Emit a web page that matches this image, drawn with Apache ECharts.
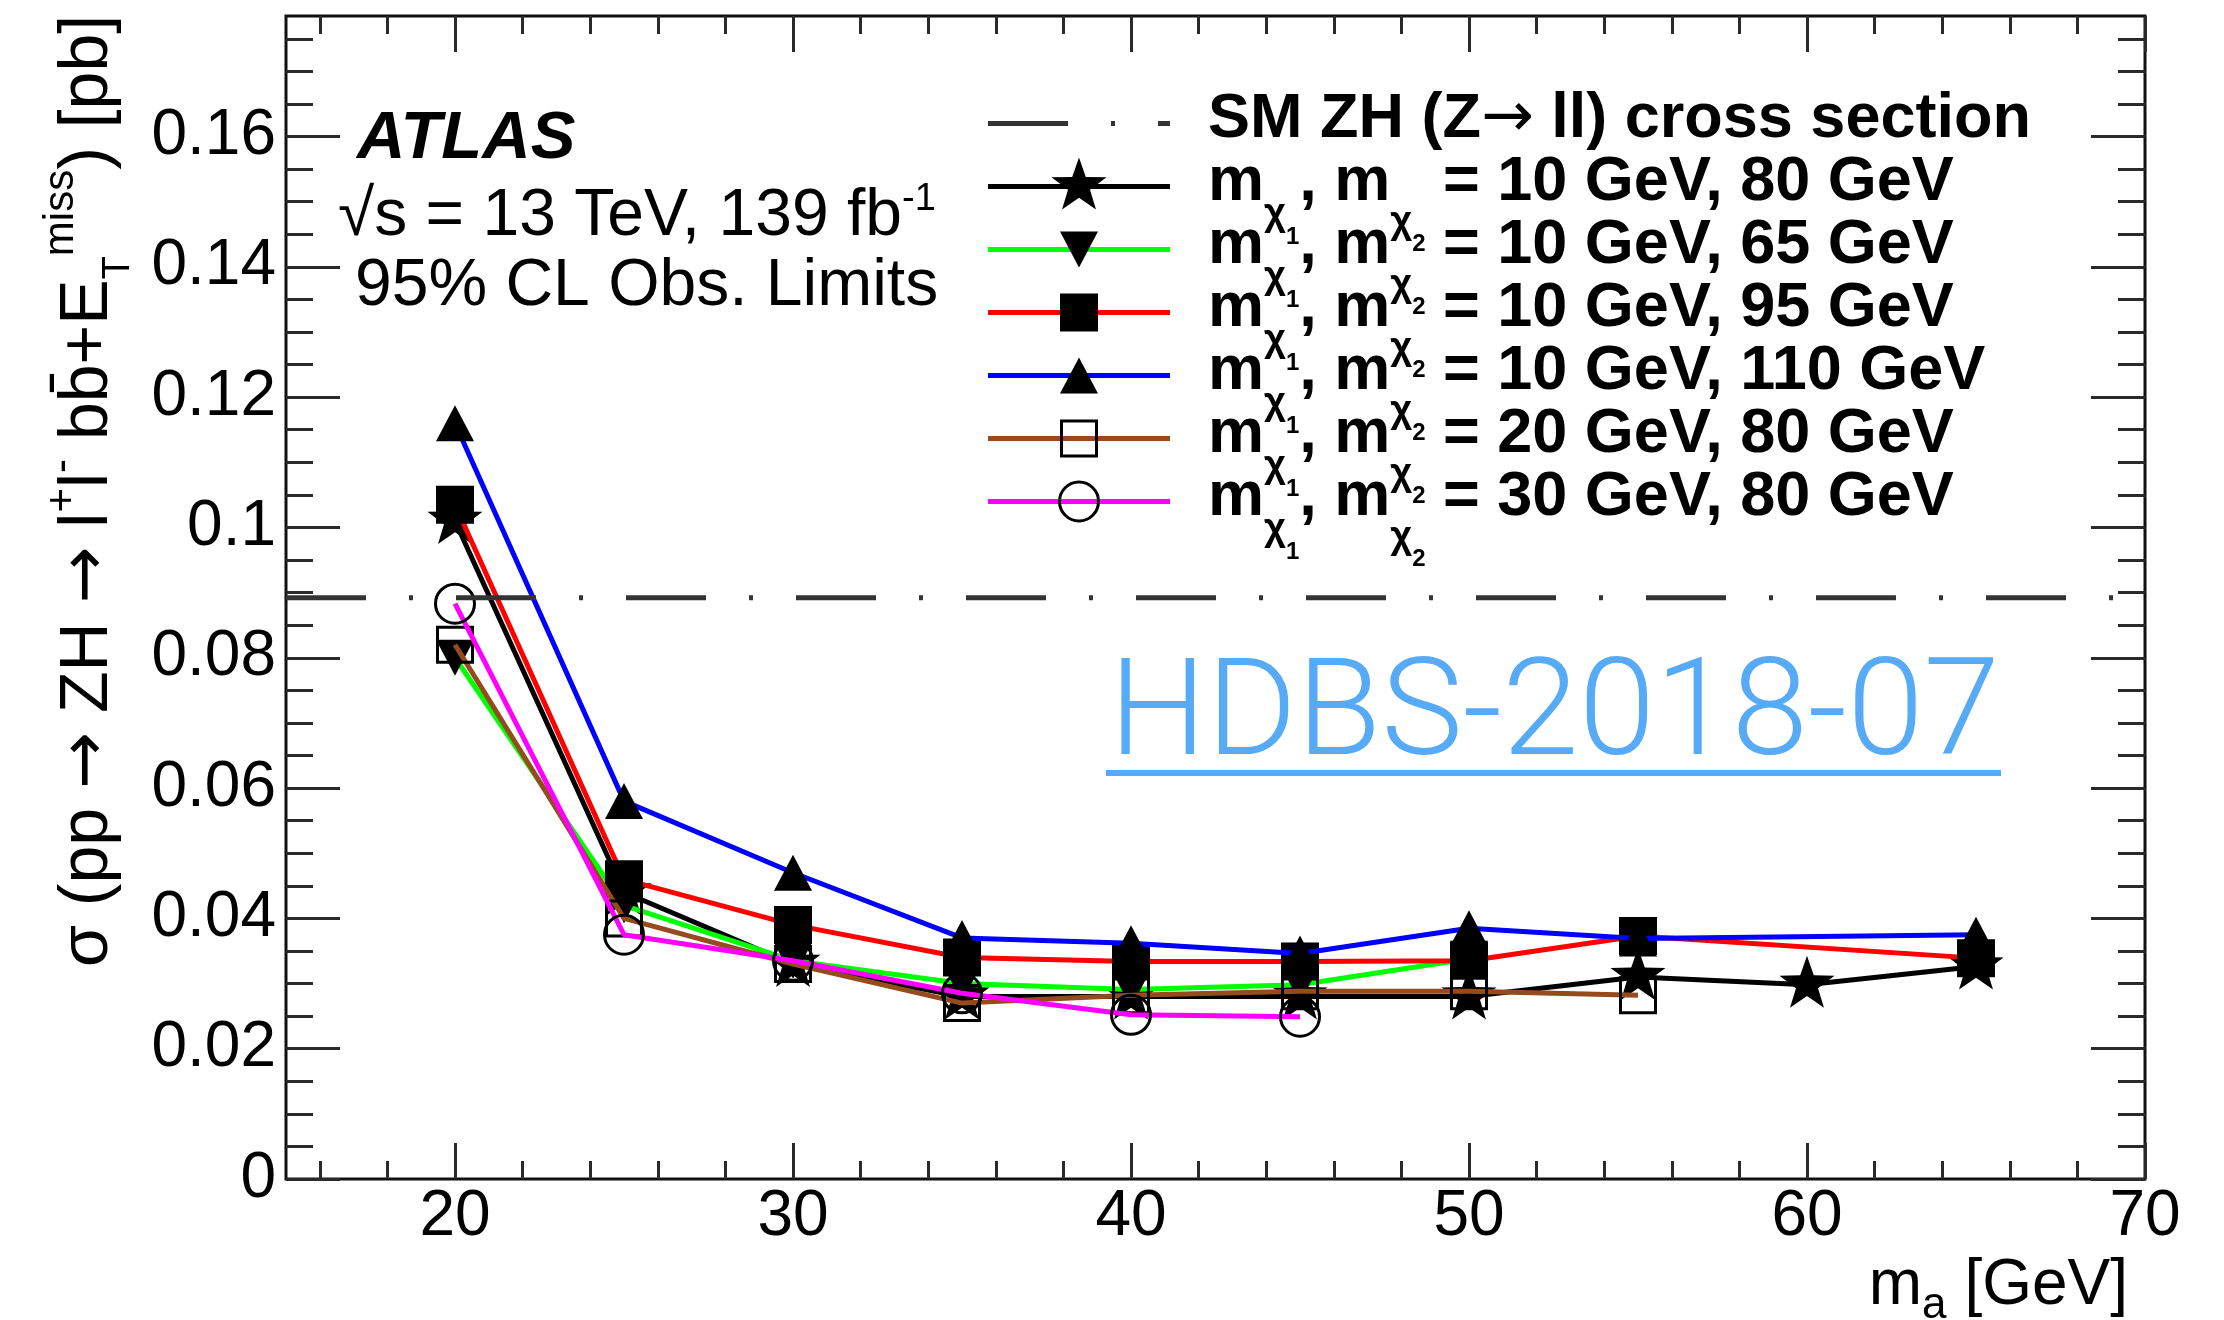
<!DOCTYPE html>
<html>
<head>
<meta charset="utf-8">
<title>ZH limits vs m_a</title>
<script src="https://cdn.jsdelivr.net/npm/echarts@6/dist/echarts.min.js"></script>
<style>
  html, body { margin: 0; padding: 0; background: #ffffff; }
  #chart { width: 2224px; height: 1320px; }
</style>
</head>
<body>
<div id="chart"></div>
<script>
// ---- values ---------------------------------------------------------------
// pseudoscalar mass scan points (GeV)
const massA = [20, 25, 30, 35, 40, 45, 50, 55, 60, 65];
// SM ZH (Z -> ll) cross section, pb
const smZH = 0.0892;
// observed 95% CL limits (pb) for (m_chi1, m_chi2) hypotheses; null = no point
const obs_10_80  = [0.101,  0.044,  0.033,  0.028,  0.028,  0.028,  0.028,  0.031,  0.0298, 0.0326];
const obs_10_65  = [0.080,  0.042,  0.0335, 0.030,  0.0291, 0.0298, 0.0338, null,   null,   null];
const obs_10_95  = [0.1035, 0.046,  0.039,  0.034,  0.0334, 0.0334, 0.0335, 0.0373, null,   0.0339];
const obs_10_110 = [0.116,  0.058,  0.047,  0.037,  0.0362, 0.0346, 0.0385, 0.0369, null,   0.0375];
const obs_20_80  = [0.082,  0.040,  0.033,  0.027,  0.0282, 0.0288, 0.0288, 0.0282, null,   null];
const obs_30_80  = [0.0883, 0.0375, 0.0335, 0.0285, 0.0252, 0.0249, null,   null,   null,   null];
// axis tick labels
const xTickLabels = [20, 30, 40, 50, 60, 70];
const yTickLabels = [0, 0.02, 0.04, 0.06, 0.08, 0.1, 0.12, 0.14, 0.16];

// ---- layout / style -------------------------------------------------------
const FONT = "'Liberation Sans', Arial, Helvetica, sans-serif";
const ARROW_FONT = "'DejaVu Sans', " + FONT;
const X_MIN = 15, X_MAX = 70, Y_MIN = 0, Y_MAX = 0.1785;
const TICK_COLOR = '#2a2a2a';
const LINK_BLUE = '#56aaf6';
const LINE_W = 5;

const xMinorTicks = [];
for (let v = 16; v <= X_MAX; v += 2) if (v % 10 !== 0) xMinorTicks.push(v);
const yMinorTicks = [];
for (let k = 1; k * 0.005 <= Y_MAX; k++) if (k % 4 !== 0) yMinorTicks.push(+(k * 0.005).toFixed(3));

function pairs(vals) {
  return massA.map((m, i) => [m, vals[i]]).filter(p => p[1] !== null);
}

// marker outlines as point lists (any scale, fitted to the symbol box)
function starPoints(inner) {
  const pts = [];
  for (let i = 0; i < 10; i++) {
    const r = i % 2 ? inner : 1;
    const a = -Math.PI / 2 + i * Math.PI / 5;
    pts.push([r * Math.cos(a), r * Math.sin(a)]);
  }
  return pts;
}
const STAR_PTS = starPoints(0.4);
const TRI_DOWN_PTS = [[0, 0], [2, 0], [1, 1.8]];
const TRI_UP_PTS = [[1, 0], [2, 1.8], [0, 1.8]];
const SQUARE_PTS = [[0, 0], [1, 0], [1, 1], [0, 1]];

function toPath(pts) {
  return 'path://' + pts.map((p, i) => (i ? 'L' : 'M') + p[0].toFixed(4) + ',' + p[1].toFixed(4)).join('') + 'Z';
}
function fitPoints(pts, cx, cy, w, h) {
  const xs = pts.map(p => p[0]), ys = pts.map(p => p[1]);
  const x0 = Math.min(...xs), x1 = Math.max(...xs), y0 = Math.min(...ys), y1 = Math.max(...ys);
  return pts.map(p => [cx - w / 2 + (p[0] - x0) / (x1 - x0) * w, cy - h / 2 + (p[1] - y0) / (y1 - y0) * h]);
}

function massLabel(m1, m2) {
  return '{b|m}{s|χ}{ss|1}{b|, m}{s2|χ}{ss2|2}{b| = ' + m1 + ' GeV, ' + m2 + ' GeV}';
}

const curves = [
  { values: obs_10_80,  color: '#000000', pts: STAR_PTS,     symbol: toPath(STAR_PTS),     size: [55, 52], offset: [0, -3], filled: true,  label: massLabel(10, 80) },
  { values: obs_10_65,  color: '#00ff00', pts: TRI_DOWN_PTS, symbol: toPath(TRI_DOWN_PTS), size: [38, 36], offset: [0, 0],  filled: true,  label: massLabel(10, 65) },
  { values: obs_10_95,  color: '#ff0000', pts: SQUARE_PTS,   symbol: 'rect',               size: [38, 38], offset: [0, 0],  filled: true,  label: massLabel(10, 95) },
  { values: obs_10_110, color: '#0000ff', pts: TRI_UP_PTS,   symbol: 'triangle',           size: [38, 36], offset: [0, 0],  filled: true,  label: massLabel(10, 110) },
  { values: obs_20_80,  color: '#964b1e', pts: SQUARE_PTS,   symbol: 'rect',               size: [35, 35], offset: [0, 0],  filled: false, label: massLabel(20, 80) },
  { values: obs_30_80,  color: '#ff00ff', pts: null,         symbol: 'circle',             size: [39, 39], offset: [0, 0],  filled: false, label: massLabel(30, 80) }
];

const SM_DASH = [80, 43, 4, 43];

// ---- series ---------------------------------------------------------------
const series = curves.map((c, i) => ({
  type: 'line',
  xAxisIndex: 0,
  yAxisIndex: 0,
  data: pairs(c.values),
  symbol: c.symbol,
  symbolSize: c.size,
  symbolOffset: c.offset,
  showAllSymbol: true,
  lineStyle: { color: c.color, width: LINE_W },
  itemStyle: c.filled
    ? { color: '#000000' }
    : { color: 'rgba(0,0,0,0)', borderColor: '#000000', borderWidth: 3 },
  emphasis: { disabled: true },
  silent: true,
  z: 3 + i
}));
series.push({
  type: 'line',
  xAxisIndex: 0,
  yAxisIndex: 0,
  data: [[X_MIN, smZH], [X_MAX, smZH]],
  symbol: 'none',
  lineStyle: { color: '#333333', width: 5, type: SM_DASH, dashOffset: 0, cap: 'butt' },
  emphasis: { disabled: true },
  silent: true,
  z: 12
});

// ---- axes -----------------------------------------------------------------
function xAxisDef(gridIndex, position, ticks, len, labels) {
  return {
    type: 'value', gridIndex, position, min: X_MIN, max: X_MAX,
    axisLine: { show: false, onZero: false },
    splitLine: { show: false },
    axisTick: { show: true, inside: true, length: len, customValues: ticks,
                lineStyle: { color: TICK_COLOR, width: 3 } },
    axisLabel: labels
      ? { show: true, customValues: xTickLabels, margin: 6, color: '#000', fontFamily: FONT, fontSize: 64,
          formatter: v => String(v) }
      : { show: false }
  };
}
function yAxisDef(gridIndex, position, ticks, len, labels) {
  return {
    type: 'value', gridIndex, position, min: Y_MIN, max: Y_MAX,
    axisLine: { show: false, onZero: false },
    splitLine: { show: false },
    axisTick: { show: true, inside: true, length: len, customValues: ticks,
                lineStyle: { color: TICK_COLOR, width: 3 } },
    axisLabel: labels
      ? { show: true, customValues: yTickLabels, margin: 10, color: '#000', fontFamily: FONT, fontSize: 64,
          formatter: v => String(+(+v).toFixed(3)) }
      : { show: false }
  };
}

const GRID = { left: 286, right: 79, top: 16, bottom: 141 };

// ---- text & legend --------------------------------------------------------
function textWidth(str, font) {
  const ctx = document.createElement('canvas').getContext('2d');
  ctx.font = font;
  return ctx.measureText(str).width;
}

function sub(size, drop, weight, family) {
  return { fontSize: size, fontFamily: family || FONT, fontWeight: weight || 'normal', fill: '#000',
           padding: drop >= 0 ? [2 * drop, 0, 0, 0] : [0, 0, -2 * drop, 0] };
}

const legendRich = {
  b: { fontSize: 63, fontWeight: 'bold', fontFamily: FONT, fill: '#000' },
  ar: { fontSize: 63, fontWeight: 'normal', fontFamily: ARROW_FONT, fill: '#000' },
  s: sub(38, 32, 'bold'),
  ss: sub(24, 55, 'bold'),
  s2: sub(38, 40, 'bold'),
  ss2: sub(24, 62, 'bold')
};

const graphics = [];
const LEG_X0 = 988, LEG_X1 = 1170, LEG_MX = 1079, LEG_TX = 1208, LEG_Y0 = 119.5, LEG_DY = 63;

// SM reference line entry
graphics.push({
  type: 'line', silent: true, z: 20,
  shape: { x1: LEG_X0, y1: LEG_Y0 + 4, x2: LEG_X1, y2: LEG_Y0 + 4 },
  style: { stroke: '#333333', lineWidth: 5, lineDash: SM_DASH, lineCap: 'butt' }
});
graphics.push({
  type: 'text', silent: true, z: 20, x: LEG_TX, y: LEG_Y0,
  style: { text: '{b|SM ZH (Z}{ar|→}{b| ll) cross section}', rich: legendRich,
           align: 'left', verticalAlign: 'middle', textAlign: 'left', textVerticalAlign: 'middle' }
});

curves.forEach((c, i) => {
  const ty = LEG_Y0 + LEG_DY * (i + 1);
  const ly = ty + 4;
  graphics.push({
    type: 'line', silent: true, z: 20,
    shape: { x1: LEG_X0, y1: ly, x2: LEG_X1, y2: ly },
    style: { stroke: c.color, lineWidth: LINE_W }
  });
  const w = c.size[0], h = c.size[1];
  const markerStyle = c.filled
    ? { fill: '#000000' }
    : { fill: 'none', stroke: '#000000', lineWidth: 3 };
  if (c.pts) {
    graphics.push({
      type: 'polygon', silent: true, z: 21,
      shape: { points: fitPoints(c.pts, LEG_MX, ly + c.offset[1], w, h) },
      style: markerStyle
    });
  } else {
    graphics.push({
      type: 'circle', silent: true, z: 21,
      shape: { cx: LEG_MX, cy: ly, r: w / 2 },
      style: markerStyle
    });
  }
  graphics.push({
    type: 'text', silent: true, z: 20, x: LEG_TX, y: ty,
    style: { text: c.label, rich: legendRich,
             align: 'left', verticalAlign: 'middle', textAlign: 'left', textVerticalAlign: 'middle' }
  });
});

// experiment labels
graphics.push({
  type: 'text', silent: true, z: 20, x: 357, y: 140,
  style: { text: 'ATLAS', fontFamily: FONT, fontSize: 67, fontWeight: 'bold', fontStyle: 'italic', fill: '#000',
           align: 'left', verticalAlign: 'middle', textAlign: 'left', textVerticalAlign: 'middle' }
});
graphics.push({
  type: 'text', silent: true, z: 20, x: 338, y: 217,
  style: { text: '{t|√s = 13 TeV, 139 fb}{u|-1}',
           rich: { t: { fontSize: 66, fontFamily: FONT, fill: '#000' }, u: sub(38, -17) },
           align: 'left', verticalAlign: 'middle', textAlign: 'left', textVerticalAlign: 'middle' }
});
graphics.push({
  type: 'text', silent: true, z: 20, x: 355, y: 287,
  style: { text: '95% CL Obs. Limits', fontFamily: FONT, fontSize: 66, fill: '#000',
           align: 'left', verticalAlign: 'middle', textAlign: 'left', textVerticalAlign: 'middle' }
});

// y-axis title, reading bottom to top
graphics.push({
  type: 'text', silent: true, z: 20, x: 88, y: 967, rotation: Math.PI / 2,
  style: { text: '{m|σ (pp }{ar|→}{m| ZH }{ar|→}{m| l}{p|+}{m|l}{p|-}{m| bb\u0304+E}{t|T}{q|miss}{m|) [pb]}',
           rich: { m: { fontSize: 68, fontFamily: FONT, fill: '#000' },
                   ar: { fontSize: 68, fontFamily: ARROW_FONT, fill: '#000' },
                   p: sub(42, -25), t: sub(38, 31), q: sub(42, -27) },
           align: 'left', verticalAlign: 'middle', textAlign: 'left', textVerticalAlign: 'middle' }
});

// x-axis title, right aligned under the frame
graphics.push({
  type: 'text', silent: true, z: 20, x: 2128, y: 1286,
  style: { text: '{m|m}{a|a}{m| [GeV]}',
           rich: { m: { fontSize: 64, fontFamily: FONT, fill: '#000' }, a: sub(44, 20) },
           align: 'right', verticalAlign: 'middle', textAlign: 'right', textVerticalAlign: 'middle' }
});

// publication reference tag
const TAG = 'HDBS-2018-07';
const tagFont = "300 136px Roboto, " + FONT;
const tagScale = 891 / textWidth(TAG, tagFont);
graphics.push({
  type: 'text', silent: true, z: 20, x: 1109, y: 719.5, scaleX: tagScale,
  style: { text: TAG, fontFamily: "Roboto, " + FONT, fontSize: 136, fontWeight: 300, fill: LINK_BLUE,
           align: 'left', verticalAlign: 'middle', textAlign: 'left', textVerticalAlign: 'middle' }
});
graphics.push({
  type: 'line', silent: true, z: 20,
  shape: { x1: 1106, y1: 773, x2: 2001, y2: 773 },
  style: { stroke: LINK_BLUE, lineWidth: 6 }
});

// ---- chart ----------------------------------------------------------------
const chart = echarts.init(document.getElementById('chart'), null, { renderer: 'canvas' });
chart.setOption({
  animation: false,
  backgroundColor: '#ffffff',
  grid: [
    Object.assign({ show: true, borderColor: '#111111', borderWidth: 3, backgroundColor: 'rgba(0,0,0,0)' }, GRID),
    Object.assign({ show: false }, GRID)
  ],
  xAxis: [
    xAxisDef(0, 'bottom', xTickLabels, 36, true),
    xAxisDef(0, 'top', xTickLabels, 36, false),
    xAxisDef(1, 'bottom', xMinorTicks, 18, false),
    xAxisDef(1, 'top', xMinorTicks, 18, false)
  ],
  yAxis: [
    yAxisDef(0, 'left', yTickLabels, 54, true),
    yAxisDef(0, 'right', yTickLabels, 54, false),
    yAxisDef(1, 'left', yMinorTicks, 27, false),
    yAxisDef(1, 'right', yMinorTicks, 27, false)
  ],
  series: series,
  graphic: graphics
});
</script>
</body>
</html>
